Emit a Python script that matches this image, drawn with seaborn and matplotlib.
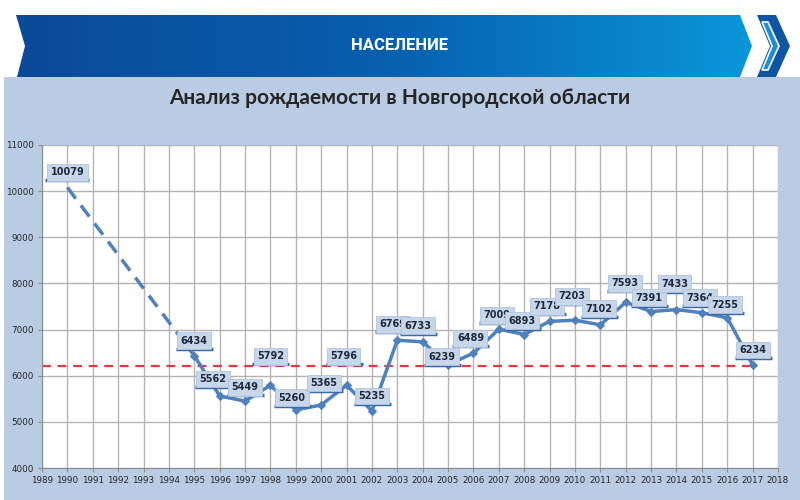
import matplotlib
matplotlib.use("Agg")
import matplotlib.pyplot as plt
import matplotlib.transforms as mtransforms
import seaborn as sns
import numpy as np
import pandas as pd
from matplotlib.patches import Polygon, Rectangle
from matplotlib.colors import LinearSegmentedColormap

# birth counts, Novgorod region
years = [1990, 1995, 1996, 1997, 1998, 1999, 2000, 2001, 2002, 2003, 2004, 2005,
         2006, 2007, 2008, 2009, 2010, 2011, 2012, 2013, 2014, 2015, 2016, 2017]
births = [10079, 6434, 5562, 5449, 5792, 5260, 5365, 5796, 5235, 6769, 6733, 6239,
          6489, 7009, 6893, 7178, 7203, 7102, 7593, 7391, 7433, 7364, 7255, 6234]
threshold = 6200
year_ticks = list(range(1989, 2019))
value_ticks = list(range(4000, 11001, 1000))

# label offsets in pixels (dx, dy) from the point
label_dx = [0, 0, -7, 0, 0, -4, 3, -3, 0, -4, -5, -6, -3, -2, -2, -3, -3, -1, -1, -2, -2, -2, -2, 0]
label_dy = [15, 15, 17, 14, 29, 12, 22, 29, 15, 16, 16, 8, 15, 14, 14, 15, 24, 16, 19, 14, 26, 15, 13, 15]

df = pd.DataFrame({"year": years, "births": births})

sns.set_style("white")
plt.rcParams["font.family"] = ["DejaVu Sans"]

fig = plt.figure(figsize=(8, 5), dpi=100)

# background decoration in pixel coordinates
bg = fig.add_axes([0, 0, 1, 1], zorder=0)
bg.set_xlim(0, 800)
bg.set_ylim(500, 0)
bg.axis("off")
bg.add_patch(Rectangle((4, 77), 796, 423, facecolor="#b9cce4", edgecolor="none"))

banner = Polygon([(16, 15), (740, 15), (752, 46), (740, 77), (17, 77), (25, 46)],
                 closed=True, facecolor="none", edgecolor="none")
bg.add_patch(banner)
cmap = LinearSegmentedColormap.from_list("hdr", ["#0b4a98", "#075fae", "#0a97d9"])
grad = np.linspace(0, 1, 256).reshape(1, -1)
im = bg.imshow(grad, extent=[15, 755, 77, 15], cmap=cmap, aspect="auto", zorder=1)
im.set_clip_path(banner)
bg.add_patch(Polygon([(757, 15), (776, 15), (790, 46), (776, 77), (757, 77), (770, 46)],
                     closed=True, facecolor="#0d55a3", edgecolor="none", zorder=1))
bg.add_patch(Polygon([(762, 22), (768, 22), (779, 46), (768, 70), (762, 70), (772, 46)],
                     closed=True, facecolor="#1c8ed3", edgecolor="white", lw=1.2, zorder=2))
bg.set_xlim(0, 800)
bg.set_ylim(500, 0)
bg.text(400, 46, "НАСЕЛЕНИЕ", color="white", fontsize=12, fontweight="bold",
        family="Roboto", ha="center", va="center", zorder=3)
bg.text(400, 98, "Анализ рождаемости в Новгородской области", color="#262626",
        fontsize=15, fontweight="bold", family="Lato", ha="center", va="center")

ax = fig.add_axes([42 / 800, 1 - 468 / 500, 736 / 800, 323 / 500], zorder=1)
ax.set_facecolor("white")

line_color = "#4f81bd"
sns.lineplot(data=df.iloc[:2], x="year", y="births", ax=ax, color=line_color,
             lw=2.5, linestyle=(0, (4, 2.5)), zorder=3)
sns.lineplot(data=df.iloc[1:], x="year", y="births", ax=ax, color=line_color,
             lw=2.5, marker="D", markersize=4.5, markeredgecolor=line_color, zorder=3)

ax.plot([year_ticks[0], years[-1]], [threshold, threshold], color="#e0393e",
        lw=1.6, linestyle=(0, (4, 3)), zorder=2)

for x, y, dx, dy in zip(years, births, label_dx, label_dy):
    # dark bar under each label box
    bar_tr = mtransforms.offset_copy(ax.transData, fig=fig, x=dx, y=dy - 8, units="dots")
    bar_w = (7 * len(str(y)) + 9) * 0.72
    ax.plot([x], [y], marker="_", markersize=bar_w, markeredgewidth=2.5,
            color="#3d6aa8", transform=bar_tr, zorder=4)
    ax.annotate(str(y), (x, y), xytext=(dx, dy), textcoords="offset pixels",
                ha="center", va="center", fontsize=7, fontweight="bold", color="#1e2a3a",
                bbox=dict(boxstyle="square,pad=0.35", fc="#c8d6ea", ec="#b0c4de", lw=0.6),
                zorder=5)

ax.set_xlim(year_ticks[0], year_ticks[-1])
ax.set_ylim(value_ticks[0], value_ticks[-1])
ax.set_xticks(year_ticks)
ax.set_yticks(value_ticks)
ax.set_xticklabels([str(t) for t in year_ticks], fontsize=6.3, color="#262626")
ax.set_yticklabels([str(t) for t in value_ticks], fontsize=6.3, color="#262626")
ax.grid(True, color="#b4b4b4", lw=1)
ax.set_axisbelow(True)
for side in ["top", "right"]:
    ax.spines[side].set_visible(False)
for side in ["left", "bottom"]:
    ax.spines[side].set_color("#8c8c8c")
ax.tick_params(axis="both", length=3, color="#8c8c8c", pad=3, bottom=True, left=True)
ax.set_xlabel("")
ax.set_ylabel("")

fig.savefig("out.png", dpi=100)
